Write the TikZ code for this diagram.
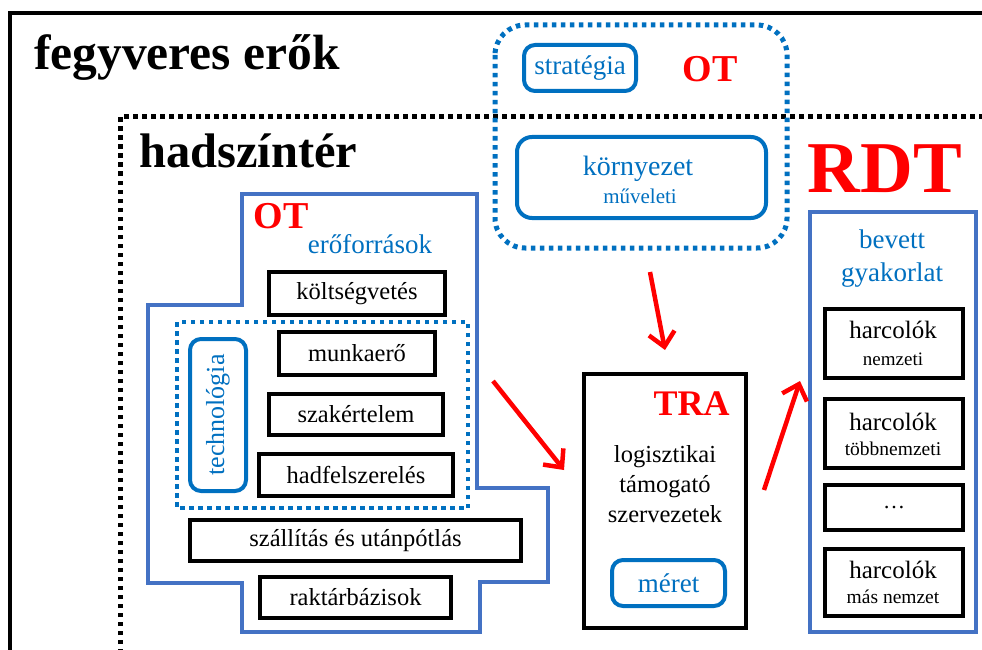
\documentclass[tikz,border=0pt]{standalone}
\usepackage{fontspec}
\setmainfont{Liberation Serif}
\usetikzlibrary{arrows.meta}
\definecolor{ablue}{HTML}{0070C0}
\definecolor{pblue}{HTML}{4472C4}
\definecolor{ared}{HTML}{FF0000}
\newcommand{\fsz}[1]{\fontsize{#1}{#1}\selectfont}
\begin{document}
\begin{tikzpicture}[x=1pt,y=-1pt,
  blkbox/.style={draw=black, line width=4.5pt, inner sep=0pt, font=\fsz{24.5}},
  bluebox/.style={draw=ablue, line width=4pt, rounded corners=11pt, inner sep=0pt, text=ablue},
  lbl/.style={inner sep=0pt, anchor=base},
  bdots/.style={line width=5pt, dash pattern=on 4.5pt off 4.5pt},
  arr/.style={draw=ared, line width=4.5pt, -{Straight Barb[length=14pt,width=26pt]}}]
\clip (0,0) rectangle (982,650);
\fill[white] (0,0) rectangle (982,650);

% outer frame and theatre frame
\draw[line width=4.5pt] (10,13) rectangle (1010,680);
\node[lbl, anchor=base west, font=\bfseries\fsz{49.5}] (fe) at (34,70) {fegyveres erők};
\draw[bdots] (120,680) -- (120,117) -- (1010,117);
\node[lbl, anchor=base west, font=\bfseries\fsz{48.5}] (hsz) at (139,167) {hadszíntér};

% strategic level group
\draw[ablue, line width=5pt, dash pattern=on 4.5pt off 4.5pt, rounded corners=30pt] (495,25) rectangle (787,248);
\node[bluebox, minimum width=112pt, minimum height=46pt, font=\fsz{27}] (strat) at (580,68) {stratégia};
\node[lbl, text=ared, font=\bfseries\fsz{38}] (ot1) at (710,82) {OT};
\node[bluebox, rounded corners=15pt, minimum width=249pt, minimum height=81pt] (korny) at (641.5,177.5) {};
\node[lbl, text=ablue, font=\fsz{28}] (korny1) at (638,175) {környezet};
\node[lbl, text=ablue, font=\fsz{21}] (korny2) at (640,203) {műveleti};

% resources polygon
\draw[pblue, line width=4pt] (242,194) -- (477,194) -- (477,488) -- (548,488) -- (548,582)
  -- (480,582) -- (480,632) -- (242,632) -- (242,583) -- (148,583) -- (148,305) -- (242,305) -- cycle;
\node[lbl, text=ared, font=\bfseries\fsz{38}] (ot2) at (281,228) {OT};
\node[lbl, text=ablue, font=\fsz{27}] (ero) at (370,253) {erőforrások};
\node[blkbox, minimum width=176pt, minimum height=43pt] (kolt) at (357,293.5) {költségvetés};
\draw[ablue, line width=4.5pt, dash pattern=on 4.5pt off 4.5pt] (177,322) rectangle (468,508);
\node[bluebox, rotate=90, minimum width=152pt, minimum height=56pt, font=\fsz{26}] (tech) at (218,415) {technológia};
\node[blkbox, minimum width=156pt, minimum height=43pt] (munka) at (357,353.5) {munkaerő};
\node[blkbox, minimum width=174pt, minimum height=41pt] (szak) at (356,414.5) {szakértelem};
\node[blkbox, minimum width=194pt, minimum height=42pt] (hadf) at (356,475) {hadfelszerelés};
\node[blkbox, minimum width=331pt, minimum height=41pt] (szall) at (355.5,540.5) {szállítás és utánpótlás};
\node[blkbox, minimum width=191pt, minimum height=41pt] (rakt) at (355.5,597.5) {raktárbázisok};

% logistic support organisations
\node[blkbox, minimum width=162pt, minimum height=254pt] (tra) at (665,501) {};
\node[lbl, text=ared, font=\bfseries\fsz{36}] (tratxt) at (691.5,415) {TRA};
\node[lbl, font=\fsz{24.5}] (l1) at (665,462) {logisztikai};
\node[lbl, font=\fsz{24.5}] (l2) at (665,492) {támogató};
\node[lbl, font=\fsz{24.5}] (l3) at (665,522) {szervezetek};
\node[bluebox, minimum width=113pt, minimum height=46pt, font=\fsz{27}] (meret) at (668.5,583) {méret};

% accepted practice
\node[lbl, text=ared, font=\bfseries\fsz{73}] (rdt) at (885,192) {RDT};
\draw[pblue, line width=4pt] (810,212) rectangle (976,632);
\node[lbl, text=ablue, font=\fsz{27}] (bev) at (892,248) {bevett};
\node[lbl, text=ablue, font=\fsz{27}] (gyak) at (892,281) {gyakorlat};
\node[blkbox, minimum width=138pt, minimum height=69pt] (h1) at (894,343.5) {};
\node[lbl, font=\fsz{25}] (h1a) at (893,338) {harcolók};
\node[lbl, font=\fsz{19}] (h1b) at (893,365) {nemzeti};
\node[blkbox, minimum width=138pt, minimum height=69pt] (h2) at (894,433.5) {};
\node[lbl, font=\fsz{25}] (h2a) at (893,430) {harcolók};
\node[lbl, font=\fsz{19.5}] (h2b) at (893,455) {többnemzeti};
\node[blkbox, minimum width=138pt, minimum height=45pt, font=\fsz{22}] (h3) at (894,507.5) {…};
\node[blkbox, minimum width=138pt, minimum height=67pt] (h4) at (894,582.5) {};
\node[lbl, font=\fsz{25}] (h4a) at (893,578) {harcolók};
\node[lbl, font=\fsz{19.5}] (h4b) at (893,603) {más nemzet};

% arrows
\coordinate (a1s) at (650,272);
\coordinate (a1e) at (665,350);
\coordinate (a2s) at (493,381);
\coordinate (a2e) at (564,470);
\coordinate (a3s) at (764,490);
\coordinate (a3e) at (800,381);
\draw[arr] (a1s) -- (a1e);
\draw[arr] (a2s) -- (a2e);
\draw[arr] (a3s) -- (a3e);
\end{tikzpicture}
\end{document}
